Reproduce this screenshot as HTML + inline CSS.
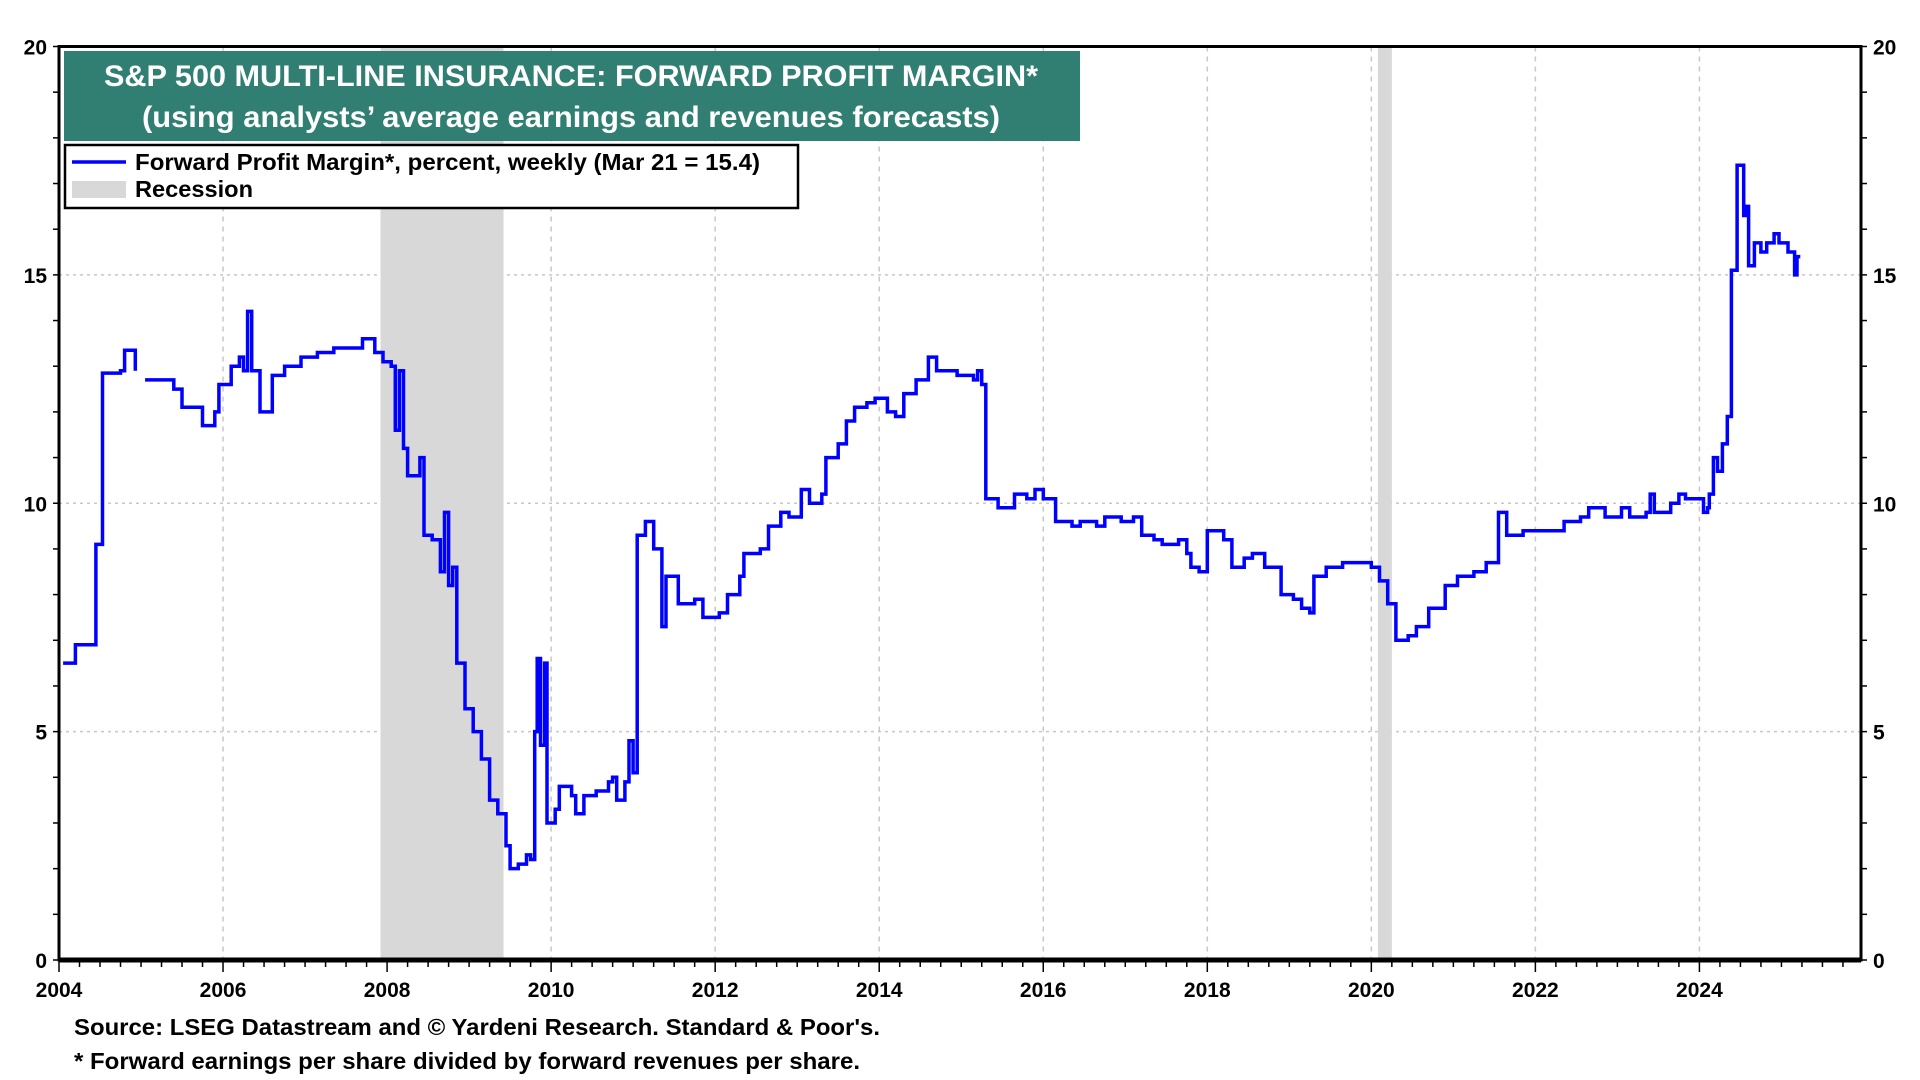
<!DOCTYPE html>
<html><head><meta charset="utf-8">
<style>
body{margin:0;background:#fff;}
svg{display:block;font-family:"Liberation Sans",Arial,sans-serif;font-weight:bold;}
</style></head>
<body>
<svg id="chart" width="1920" height="1080" viewBox="0 0 1920 1080" xmlns="http://www.w3.org/2000/svg">
<g id="grid"></g>
<g id="rec"></g>
<g id="series"></g>
<g id="axes"></g>
<rect x="64" y="51" width="1016" height="90" fill="#317f72"/>
<text x="104" y="86" textLength="934" lengthAdjust="spacingAndGlyphs" fill="#fff" font-size="30">S&amp;P 500 MULTI-LINE INSURANCE: FORWARD PROFIT MARGIN*</text>
<text x="142" y="127" textLength="858" lengthAdjust="spacingAndGlyphs" fill="#fff" font-size="30">(using analysts’ average earnings and revenues forecasts)</text>
<g>
<rect x="65" y="145" width="733" height="63" fill="#fff" stroke="#000" stroke-width="2.5"/>
<line x1="72" y1="162" x2="126" y2="162" stroke="#0000ff" stroke-width="3.5"/>
<text x="135" y="170" textLength="625" lengthAdjust="spacingAndGlyphs" font-size="23">Forward Profit Margin*, percent, weekly (Mar 21 = 15.4)</text>
<rect x="72" y="181" width="54" height="17" fill="#d8d8d8"/>
<text x="135" y="197" textLength="118" lengthAdjust="spacingAndGlyphs" font-size="23">Recession</text>
</g>
<text x="74" y="1035" textLength="806" lengthAdjust="spacingAndGlyphs" font-size="23">Source: LSEG Datastream and © Yardeni Research. Standard &amp; Poor's.</text>
<text x="74" y="1069" textLength="786" lengthAdjust="spacingAndGlyphs" font-size="23">* Forward earnings per share divided by forward revenues per share.</text>
</svg>
<script>
const years=[2004.05,2004.2,2004.45,2004.53,2004.75,2004.8,2004.93,2005.0,2005.05,2005.4,2005.5,2005.7,2005.75,2005.9,2005.95,2006.1,2006.2,2006.25,2006.3,2006.35,2006.45,2006.6,2006.75,2006.95,2007.15,2007.35,2007.55,2007.7,2007.85,2007.95,2008.05,2008.1,2008.15,2008.2,2008.25,2008.4,2008.45,2008.55,2008.65,2008.7,2008.75,2008.8,2008.85,2008.95,2009.05,2009.15,2009.25,2009.35,2009.45,2009.5,2009.6,2009.7,2009.75,2009.8,2009.83,2009.87,2009.92,2009.95,2010.05,2010.1,2010.25,2010.3,2010.4,2010.55,2010.7,2010.75,2010.8,2010.9,2010.95,2011.0,2011.05,2011.15,2011.25,2011.35,2011.4,2011.55,2011.75,2011.85,2011.95,2012.05,2012.15,2012.3,2012.35,2012.55,2012.65,2012.8,2012.9,2013.05,2013.15,2013.3,2013.35,2013.5,2013.6,2013.7,2013.85,2013.95,2014.1,2014.2,2014.3,2014.45,2014.6,2014.7,2014.85,2014.95,2015.15,2015.2,2015.25,2015.3,2015.45,2015.65,2015.8,2015.9,2016.0,2016.15,2016.35,2016.45,2016.65,2016.75,2016.95,2017.1,2017.2,2017.35,2017.45,2017.65,2017.75,2017.8,2017.9,2018.0,2018.1,2018.2,2018.3,2018.45,2018.55,2018.7,2018.9,2019.05,2019.15,2019.25,2019.3,2019.45,2019.65,2019.85,2020.0,2020.1,2020.2,2020.3,2020.45,2020.55,2020.7,2020.9,2021.05,2021.25,2021.4,2021.5,2021.55,2021.65,2021.85,2022.15,2022.35,2022.55,2022.65,2022.85,2023.05,2023.15,2023.35,2023.4,2023.45,2023.65,2023.75,2023.83,2024.05,2024.1,2024.12,2024.17,2024.22,2024.28,2024.34,2024.39,2024.46,2024.54,2024.57,2024.6,2024.67,2024.75,2024.82,2024.91,2024.97,2025.08,2025.16,2025.19];
const values=[6.5,6.9,9.1,12.85,12.9,13.35,12.9,null,12.7,12.5,12.1,12.1,11.7,12.0,12.6,13.0,13.2,12.9,14.2,12.9,12.0,12.8,13.0,13.2,13.3,13.4,13.4,13.6,13.3,13.1,13.0,11.6,12.9,11.2,10.6,11.0,9.3,9.2,8.5,9.8,8.2,8.6,6.5,5.5,5.0,4.4,3.5,3.2,2.5,2.0,2.1,2.3,2.2,5.0,6.6,4.7,6.5,3.0,3.3,3.8,3.6,3.2,3.6,3.7,3.9,4.0,3.5,3.9,4.8,4.1,9.3,9.6,9.0,7.3,8.4,7.8,7.9,7.5,7.5,7.6,8.0,8.4,8.9,9.0,9.5,9.8,9.7,10.3,10.0,10.2,11.0,11.3,11.8,12.1,12.2,12.3,12.0,11.9,12.4,12.7,13.2,12.9,12.9,12.8,12.7,12.9,12.6,10.1,9.9,10.2,10.1,10.3,10.1,9.6,9.5,9.6,9.5,9.7,9.6,9.7,9.3,9.2,9.1,9.2,8.9,8.6,8.5,9.4,9.4,9.2,8.6,8.8,8.9,8.6,8.0,7.9,7.7,7.6,8.4,8.6,8.7,8.7,8.6,8.3,7.8,7.0,7.1,7.3,7.7,8.2,8.4,8.5,8.7,8.7,9.8,9.3,9.4,9.4,9.6,9.7,9.9,9.7,9.9,9.7,9.8,10.2,9.8,10.0,10.2,10.1,9.8,9.9,10.2,11.0,10.7,11.3,11.9,15.1,17.4,16.3,16.5,15.2,15.7,15.5,15.7,15.9,15.7,15.5,15.0,15.4];
const recessions=[[2007.92,2009.42],[2020.08,2020.25]];
const xTickLabels=[2004,2006,2008,2010,2012,2014,2016,2018,2020,2022,2024];
const yTickLabels=[0,5,10,15,20];

const NS="http://www.w3.org/2000/svg";
const L=59,R=1861,T=46.5,B=960;
const X0=2004,X1=2025.97,Y0=0,Y1=20;
const xs=v=>L+(v-X0)/(X1-X0)*(R-L);
const ys=v=>B-(v-Y0)/(Y1-Y0)*(B-T);
function mk(tag,attrs,parent){const e=document.createElementNS(NS,tag);for(const k in attrs)e.setAttribute(k,attrs[k]);document.getElementById(parent).appendChild(e);return e;}

yTickLabels.forEach(v=>{if(v>0&&v<20){const g=mk('line',{x1:L,x2:R,y1:ys(v),y2:ys(v),stroke:'#c8c8c8','stroke-width':1.5,'stroke-dasharray':'3,4'},'grid');

}});
xTickLabels.forEach(v=>{if(v>X0){const g=mk('line',{x1:xs(v),x2:xs(v),y1:T,y2:B,stroke:'#c8c8c8','stroke-width':1.5,'stroke-dasharray':'5,5'},'grid');

}});
recessions.forEach(r=>{const e=mk('rect',{x:xs(r[0]),y:T,width:xs(r[1])-xs(r[0]),height:B-T,fill:'#d8d8d8'},'rec');

});
let d='',prev=null;
for(let i=0;i<years.length;i++){
 const v=values[i];
 if(v===null){prev=null;continue;}
 const x=xs(years[i]).toFixed(1),y=ys(v).toFixed(1);
 if(prev===null)d+='M'+x+','+y;else d+='H'+x+'V'+y;
 prev=v;
}
d+='H'+xs(2025.23).toFixed(1);
const p=mk('path',{d:d,fill:'none',stroke:'#0000ff','stroke-width':3.5,'stroke-linejoin':'miter'},'series');


const f=mk('rect',{x:L,y:T,width:R-L,height:B-T,fill:'none',stroke:'#000','stroke-width':3},'axes');


const bx=mk('line',{x1:L,x2:R,y1:B,y2:B,stroke:'#000','stroke-width':5},'axes');


for(let y=X0;y<=2025.9;y+=0.25){const major=Math.abs(y-Math.round(y/2)*2)<1e-6;
 const t=mk('line',{x1:xs(y),x2:xs(y),y1:B,y2:B+(major?12:7),stroke:'#000','stroke-width':1.5},'axes');
 
 }
xTickLabels.forEach(v=>{const t=mk('text',{x:xs(v),y:997,'text-anchor':'middle','font-size':21},'axes');t.textContent=v;

});
for(let v=0;v<=20;v++){
 const t1=mk('line',{x1:L-6,x2:L,y1:ys(v),y2:ys(v),stroke:'#000','stroke-width':1.5},'axes');
 
 
 const t2=mk('line',{x1:R,x2:R+6,y1:ys(v),y2:ys(v),stroke:'#000','stroke-width':1.5},'axes');
 
 }
yTickLabels.forEach(v=>{
 const a=mk('text',{x:L-12,y:ys(v)+8,'text-anchor':'end','font-size':21},'axes');a.textContent=v;
 
 
 const b=mk('text',{x:R+12,y:ys(v)+8,'text-anchor':'start','font-size':21},'axes');b.textContent=v;
 
 });
</script>
</body></html>
